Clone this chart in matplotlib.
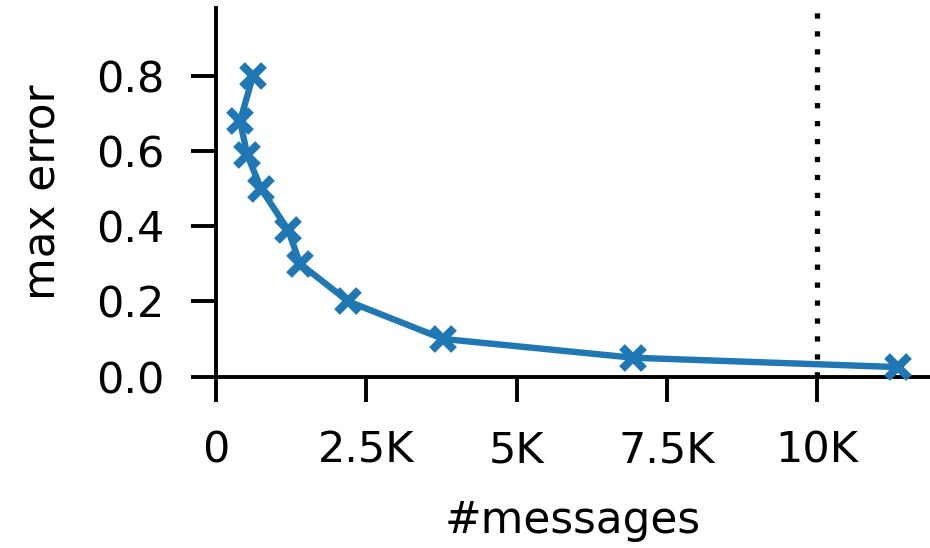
import matplotlib
matplotlib.use("Agg")
import matplotlib.pyplot as plt
from matplotlib.ticker import FuncFormatter

# data
messages = [615, 400, 520, 750, 1200, 1400, 2200, 3780, 6940, 11350]
max_error = [0.80, 0.68, 0.59, 0.50, 0.39, 0.30, 0.20, 0.10, 0.05, 0.025]
budget = 10000
xticks = [0, 2500, 5000, 7500, 10000]
yticks = [0.0, 0.2, 0.4, 0.6, 0.8]

plt.rcParams['font.family'] = ['DejaVu Sans']
fig = plt.figure(figsize=(9.3, 5.48), dpi=100)
ax = fig.add_axes([216/930, 1 - 376.5/548, 1 - 216/930, (376.5 - 8)/548])

ax.plot(messages, max_error, color='#1f77b4', lw=4.6, marker='x',
        ms=16, mew=5.8, clip_on=False, zorder=3)
ax.axvline(budget, color='black', lw=3.8, linestyle=(0, (1, 2.4)), zorder=2)

ax.set_xlim(0, 11880)
ax.set_ylim(0, 0.981)
ax.set_xticks(xticks)
ax.set_yticks(yticks)
ax.xaxis.set_major_formatter(FuncFormatter(lambda v, p: '0' if v == 0 else f'{v/1000:g}K'))
ax.yaxis.set_major_formatter(FuncFormatter(lambda v, p: f'{v:.1f}'))

for s in ['top', 'right']:
    ax.spines[s].set_visible(False)
for s in ['left', 'bottom']:
    ax.spines[s].set_linewidth(2.8)
ax.tick_params(axis='both', which='major', length=18, width=2.8, labelsize=31)
ax.tick_params(axis='y', pad=19)
ax.tick_params(axis='x', pad=20)
ax.set_xlabel('#messages', fontsize=31.5, labelpad=20)
ax.set_ylabel('max error', fontsize=31.5, labelpad=23)

fig.savefig('out.png', dpi=100)
